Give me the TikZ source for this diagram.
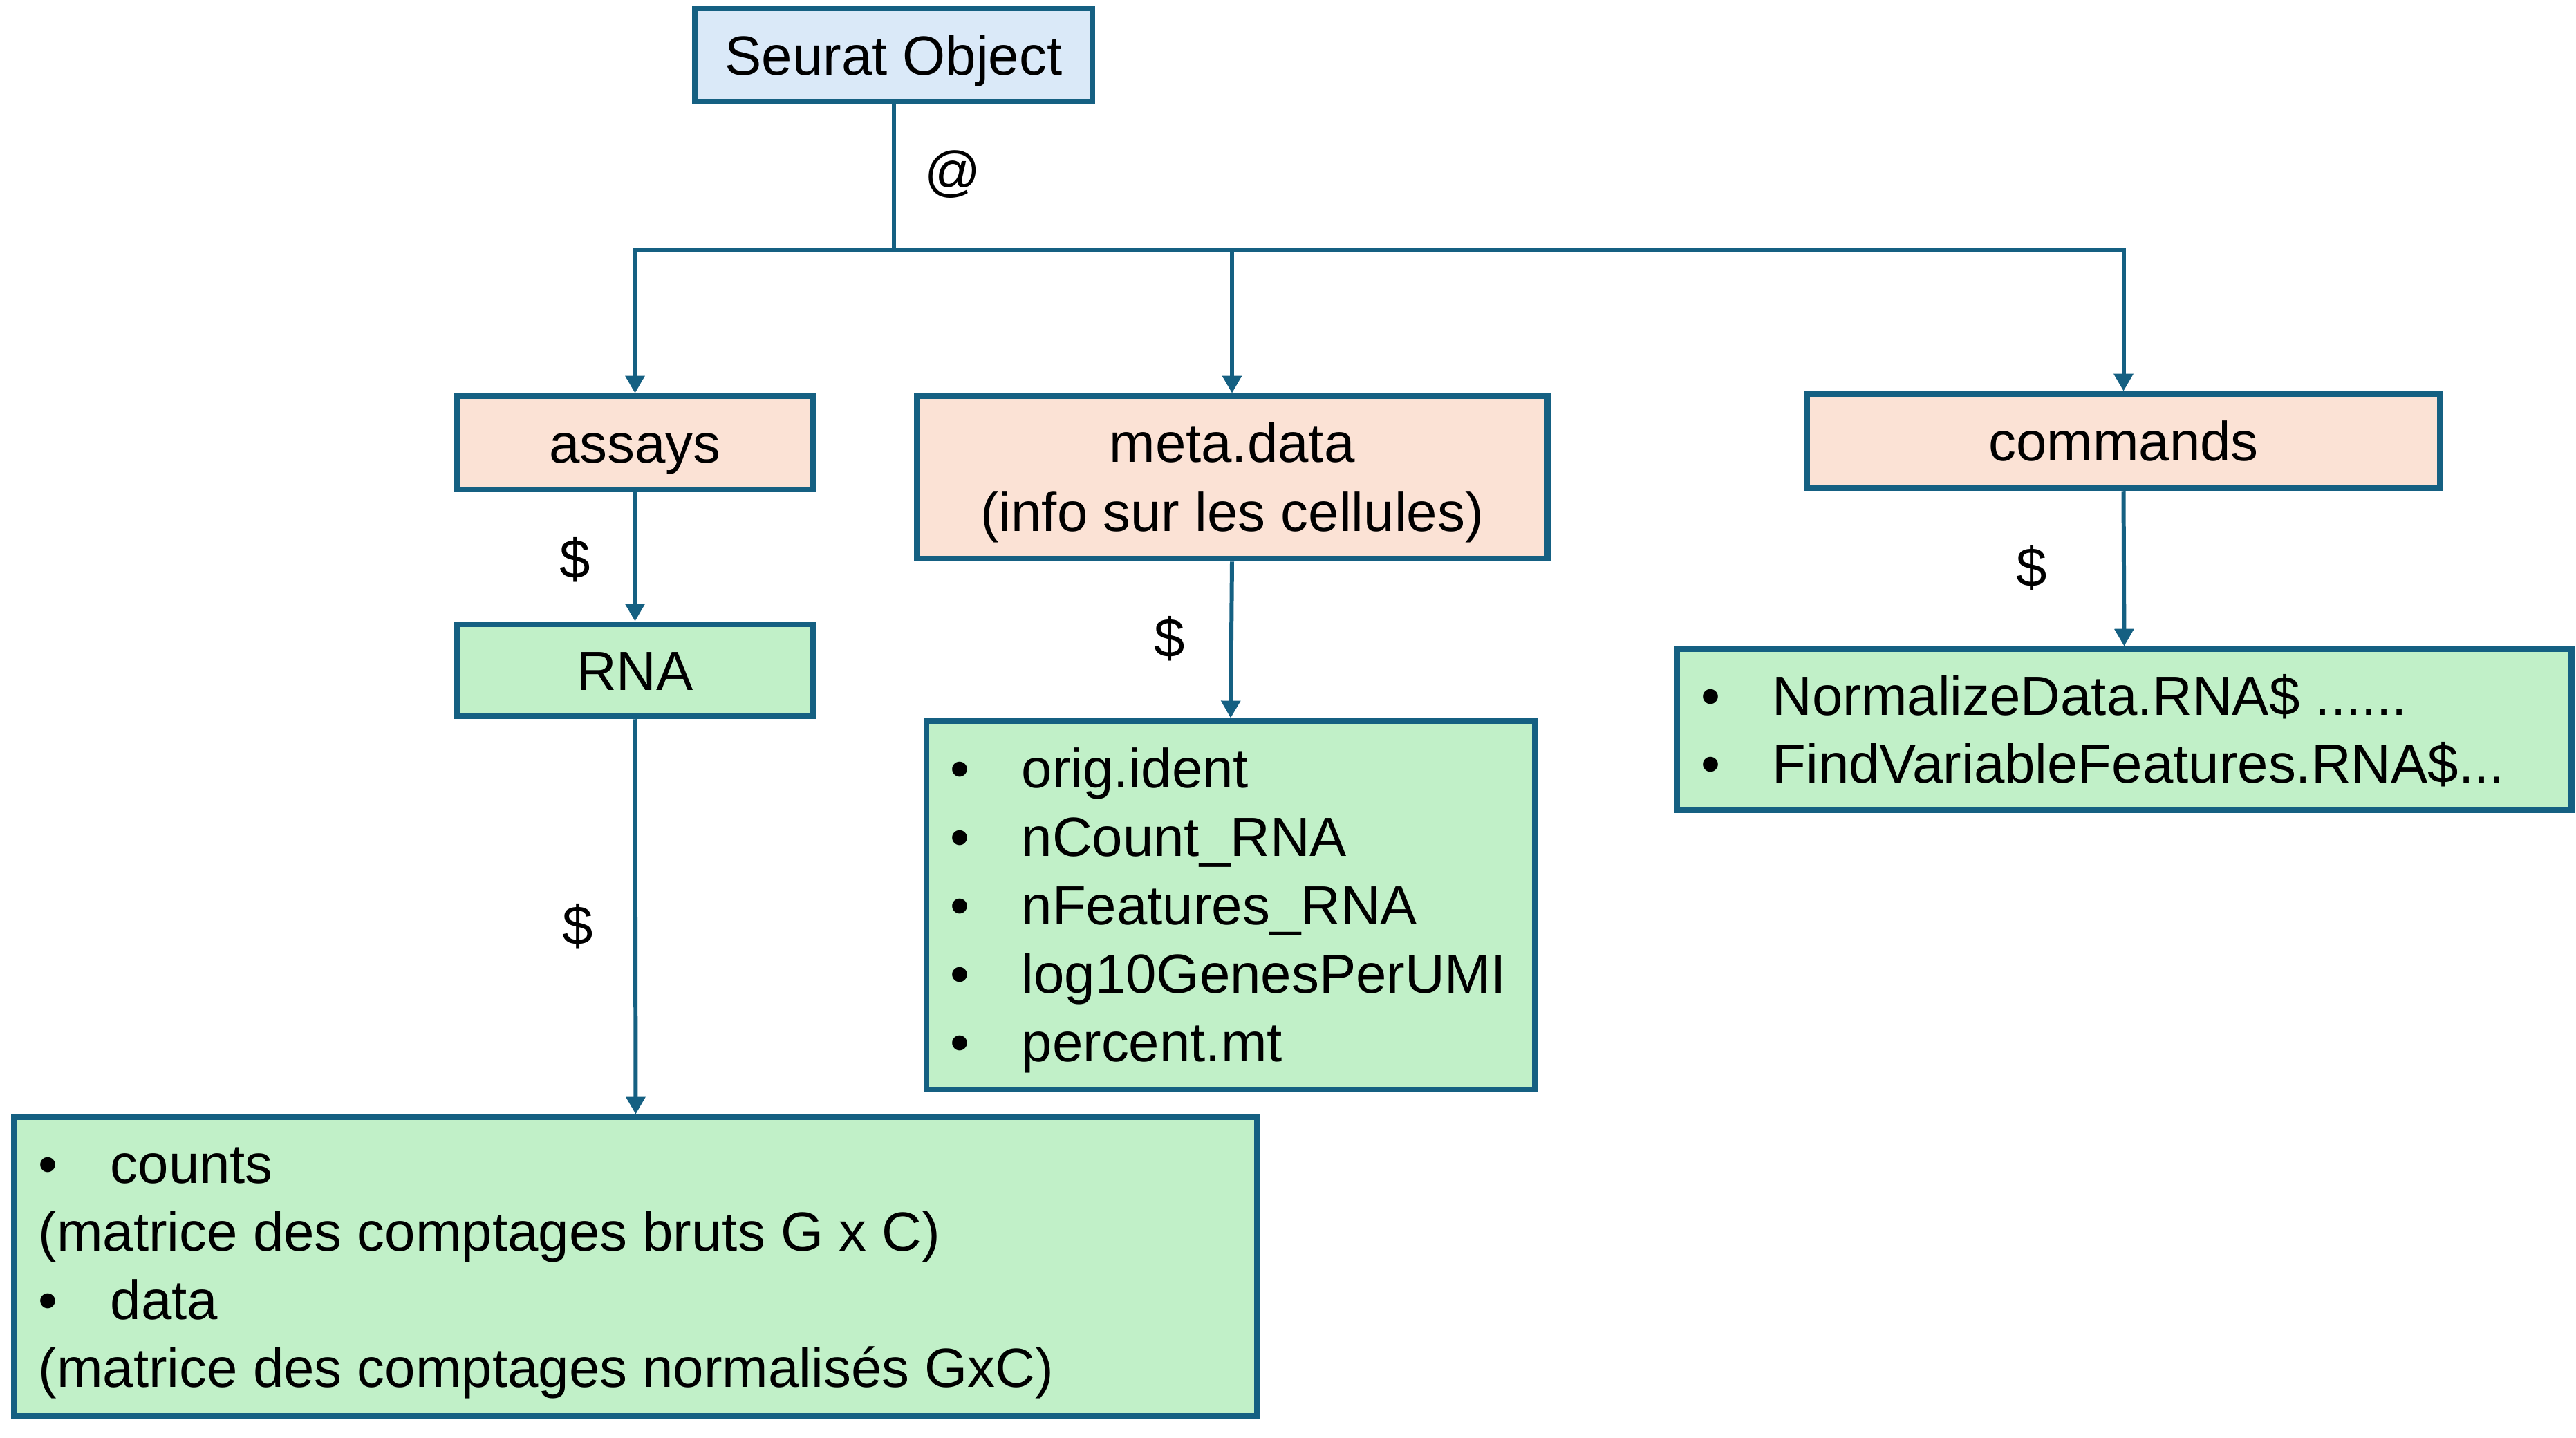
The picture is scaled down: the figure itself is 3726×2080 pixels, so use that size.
\documentclass[tikz,border=0pt]{standalone}
\usepackage{fontspec}
\setmainfont{Liberation Sans}
\usetikzlibrary{arrows.meta}
\definecolor{bord}{HTML}{156082}
\definecolor{fblue}{HTML}{DAE9F8}
\definecolor{fpeach}{HTML}{FBE2D5}
\definecolor{fgreen}{HTML}{C1F0C8}
\tikzset{
  box/.style={draw=bord, line width=2.4pt, inner sep=0pt, align=center,
    font=\fontsize{22.7}{28.4}\selectfont},
  onel/.style={text height=0.74cm, text depth=0.17cm},
  conn/.style={draw=bord, line width=1.7pt},
  arr/.style={conn, -{Triangle[width=0.27cm,length=0.25cm]}},
  lbl/.style={font=\fontsize{22.7}{28}\selectfont, inner sep=0pt},
  li/.style={font=\fontsize{22.7}{28}\selectfont, inner sep=0pt, anchor=west,
    text height=0.6cm, text depth=0.17cm},
}
\newcommand{\bul}{\makebox[1.03cm][l]{\textbullet}}
\begin{document}
\begin{tikzpicture}[x=0.01cm,y=-0.01cm]
\useasboundingbox[fill=white] (0,0) rectangle (3726,2080);

% boxes
\node[box, onel, fill=fblue, minimum width=5.75cm, minimum height=1.35cm] (seurat) at (1292.5,79.5) {Seurat Object};
\node[box, onel, fill=fpeach, minimum width=5.15cm, minimum height=1.35cm] (assays) at (918.5,640.5) {assays};
\node[box, fill=fpeach, minimum width=9.12cm, minimum height=2.35cm] (meta) at (1782,690.5) {\rule{0pt}{0.72cm}meta.data\\(info sur les cellules)};
\node[box, onel, fill=fpeach, minimum width=9.15cm, minimum height=1.36cm] (commands) at (3071.5,638) {commands};
\node[box, onel, fill=fgreen, minimum width=5.15cm, minimum height=1.33cm] (rna) at (918.5,969.5) {RNA};
\node[box, fill=fgreen, minimum width=8.80cm, minimum height=5.33cm] (metalist) at (1780,1309.5) {};
\node[box, fill=fgreen, minimum width=12.93cm, minimum height=2.33cm] (cmdlist) at (3072.5,1055.5) {};
\node[box, fill=fgreen, minimum width=17.97cm, minimum height=4.32cm] (datalist) at (919.5,1832) {};

% list contents
\node[li] (m1) at (1374,1118) {\bul orig.ident};
\node[li] (m2) at (1374,1217) {\bul nCount\_RNA};
\node[li] (m3) at (1374,1316) {\bul nFeatures\_RNA};
\node[li] (m4) at (1374,1415) {\bul log10GenesPerUMI};
\node[li] (m5) at (1374,1514) {\bul percent.mt};

\node[li] (c1) at (2460,1013) {\bul NormalizeData.RNA\$ ......};
\node[li] (c2) at (2460,1111) {\bul FindVariableFeatures.RNA\$...};

\node[li] (d1) at (55,1690) {\makebox[1.04cm][l]{\textbullet}counts};
\node[li] (d2) at (55,1788) {(matrice des comptages bruts G x C)};
\node[li] (d3) at (55,1887) {\makebox[1.04cm][l]{\textbullet}data};
\node[li] (d4) at (55,1985) {(matrice des comptages normalisés GxC)};

% connectors
\coordinate (j) at (seurat.south |- 0,361);
\draw[conn] (seurat.south) -- (j);
\draw[arr] (j) -| (assays.north);
\draw[arr] (j) -| (meta.north);
\draw[arr] (j) -| (commands.north);
\draw[arr] (assays.south) -- (rna.north);
\draw[arr] (rna.south) -- (datalist.north);
\draw[arr] (meta.south) -- (metalist.north);
\draw[arr] (commands.south) -- (cmdlist.north);

% labels
\node[lbl] (at) at (1378,252) {@};
\node[lbl] (d_a) at (832,810) {\$};
\node[lbl] (d_m) at (1692,924) {\$};
\node[lbl] (d_c) at (2939,822) {\$};
\node[lbl] (d_r) at (836,1340) {\$};
\end{tikzpicture}
\end{document}
